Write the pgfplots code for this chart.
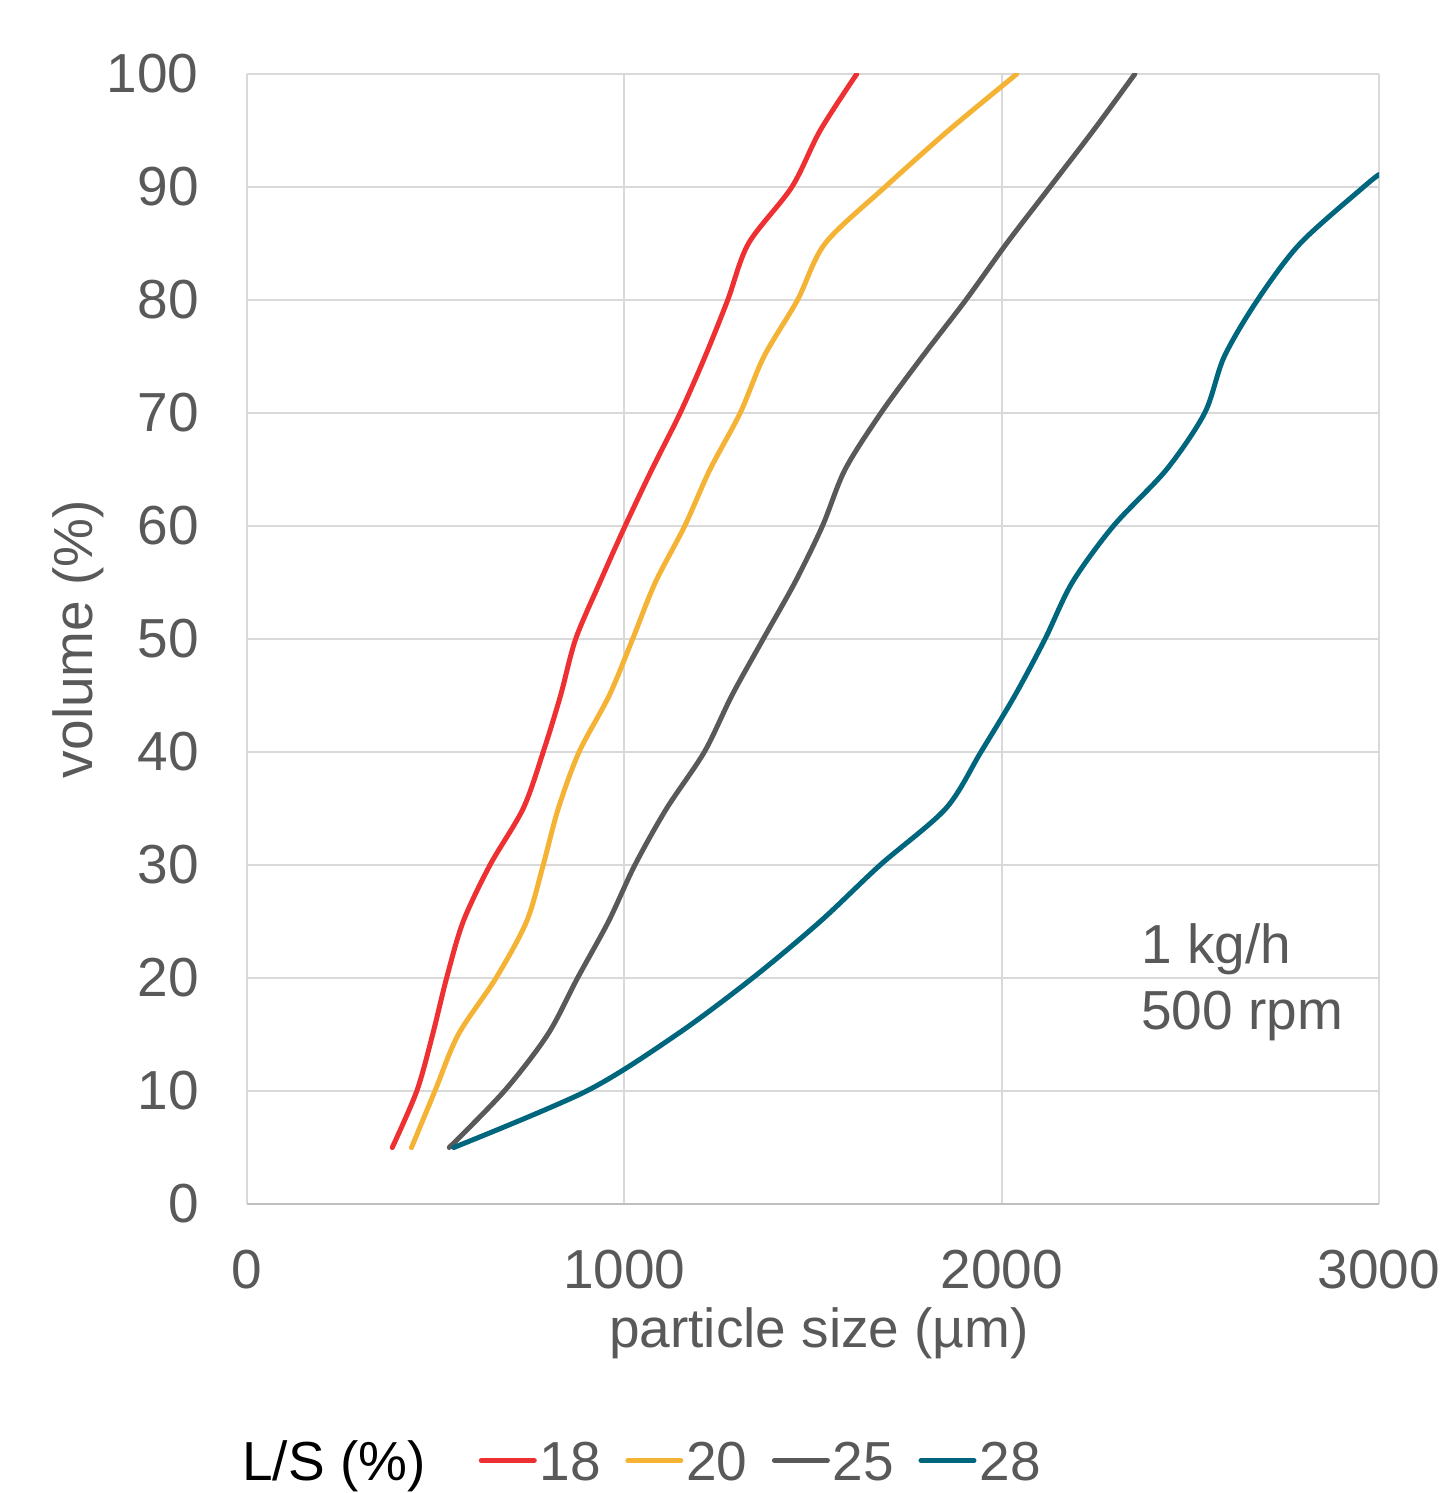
\documentclass[border=0pt]{standalone}
\usepackage{fontspec}
\setmainfont{Liberation Sans}
\usepackage{pgfplots}
\pgfplotsset{compat=1.18}
\definecolor{cred}{HTML}{EE3033}
\definecolor{corange}{HTML}{F5B335}
\definecolor{cgray}{HTML}{595959}
\definecolor{cteal}{HTML}{00667E}
\definecolor{ctext}{HTML}{595959}
\definecolor{cgrid}{HTML}{D9D9D9}
\definecolor{caxis}{HTML}{BFBFBF}
\begin{document}
\begin{tikzpicture}
\useasboundingbox (-123.5bp,-144.5bp) rectangle (600bp,602bp);
\begin{axis}[
  at={(0,0)}, anchor=south west,
  scale only axis, width=566bp, height=565bp,
  xmin=0, xmax=3000, ymin=0, ymax=100,
  xtick={0,1000,2000,3000}, ytick={0,10,...,100},
  grid=major, major grid style={cgrid, line width=1bp},
  axis x line*=bottom, axis y line*=left,
  x axis line style={caxis, line width=1bp, -},
  y axis line style={draw=none, -},
  major tick length=0pt,
  tick label style={font=\fontsize{27.5bp}{33bp}\selectfont, text=ctext, inner sep=0pt},
  /pgf/number format/assume math mode=true,
  /pgf/number format/1000 sep={},
  xticklabel style={anchor=north, yshift=-23bp},
  yticklabel style={anchor=east, xshift=-24bp},
  xlabel={particle size (µm)},
  ylabel={volume (\%)},
  label style={font=\fontsize{27.5bp}{33bp}\selectfont, text=ctext, inner sep=0pt},
  xlabel style={at={(axis description cs:0.5,0)}, anchor=base, yshift=-71.5bp, xshift=3bp},
  ylabel style={at={(axis description cs:-0.1369,0.5)}, anchor=base},
  legend columns=-1,
  legend style={at={(axis description cs:0,0)}, anchor=north west, xshift=-2.5bp, yshift=-117.9bp,
    draw=none, fill=none, inner sep=0pt, font=\fontsize{27.5bp}{33bp}\selectfont, text=ctext,
    nodes={inner sep=0pt}, cells={anchor=base west},
    /tikz/every even column/.append style={column sep=12.2bp}},
  legend image code/.code={\draw[#1, line width=2.5bp, line cap=round] (0bp,9.8bp) -- (26.5bp,9.8bp);},
  every axis plot/.append style={line width=2.5bp, line cap=round, line join=round, mark=none},
]
\addlegendimage{empty legend}
\addlegendentry{\textcolor{black}{L/S (\%)}\rule{14.3bp}{0pt}}

\addplot[cred, smooth] coordinates {
(385,5) (450,10) (492,15) (529,20) (573,25) (644,30) (732,35) (785,40) (831,45) (871,50)
(935,55) (1002,60) (1073,65) (1148,70) (1214,75) (1274,80) (1329,85) (1444,90) (1519,95) (1616,100)};
\addlegendentry{\hspace{1.5bp}18}

\addplot[corange, smooth] coordinates {
(436,5) (498,10) (560,15) (660,20) (741,25) (785,30) (825,35) (880,40) (960,45) (1022,50)
(1082,55) (1160,60) (1227,65) (1307,70) (1370,75) (1459,80) (1532,85) (1691,90) (1859,95) (2040,100)};
\addlegendentry{\hspace{1.5bp}20}

\addplot[cgray, smooth] coordinates {
(536,5) (682,10) (797,15) (876,20) (958,25) (1028,30) (1112,35) (1212,40) (1285,45) (1368,50)
(1452,55) (1525,60) (1585,65) (1680,70) (1790,75) (1905,80) (2013,85) (2128,90) (2243,95) (2353,100)};
\addlegendentry{\hspace{1.5bp}25}

\addplot[cteal, smooth] coordinates {
(548,5) (900,10) (1139,15) (1340,20) (1519,25) (1678,30) (1852,35) (1945,40) (2035,45) (2115,50)
(2187,55) (2296,60) (2437,65) (2538,70) (2590,75) (2678,80) (2791,85) (2959,90) (3000,91.1)};
\addlegendentry{\hspace{1.5bp}28}

\node[anchor=base west, inner sep=0pt, text=ctext, font=\fontsize{27.5bp}{33bp}\selectfont] at (axis cs:2369,21.24) {1 kg/h};
\node[anchor=base west, inner sep=0pt, text=ctext, font=\fontsize{27.5bp}{33bp}\selectfont] at (axis cs:2369,15.4) {500 rpm};
\end{axis}
\end{tikzpicture}
\end{document}
